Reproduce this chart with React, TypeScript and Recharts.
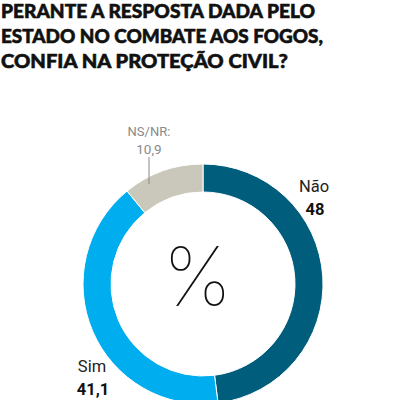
import React from "react";
import { PieChart, Pie, Cell } from "recharts";

const categories = ["Não", "Sim", "NS/NR"];
const values = [48, 41.1, 10.9];
const valueLabels = ["48", "41,1", "10,9"];
const colors = ["#005D7C", "#00AEEF", "#C9C8BA"];
const titleLines = [
  "PERANTE A RESPOSTA DADA PELO",
  "ESTADO NO COMBATE AOS FOGOS,",
  "CONFIA NA PROTEÇÃO CIVIL?",
];
const titleWidths = [314, 322, 287];

const data = categories.map((name, i) => ({ name, value: values[i], label: valueLabels[i] }));

const renderLabel = (props: any) => {
  const { cx, cy, index } = props;
  const d = data[index];
  if (index === 0) {
    return (
      <g>
        <text x={cx + 111} y={cy - 92} textAnchor="middle" fontFamily="Roboto, 'Liberation Sans', sans-serif" fontSize={16.5} fill="#222">{d.name}</text>
        <text x={cx + 112} y={cy - 69} textAnchor="middle" fontFamily="Roboto, 'Liberation Sans', sans-serif" fontWeight={700} fontSize={16.5} fill="#111">{d.label}</text>
      </g>
    );
  }
  if (index === 1) {
    return (
      <g>
        <text x={cx - 111} y={cy + 88} textAnchor="middle" fontFamily="Roboto, 'Liberation Sans', sans-serif" fontSize={16.5} fill="#222">{d.name}</text>
        <text x={cx - 110} y={cy + 111} textAnchor="middle" fontFamily="Roboto, 'Liberation Sans', sans-serif" fontWeight={700} fontSize={16.5} fill="#111">{d.label}</text>
      </g>
    );
  }
  return (
    <g>
      <text x={cx - 54} y={cy - 148} textAnchor="middle" fontFamily="Roboto, 'Liberation Sans', sans-serif" fontSize={13} fill="#8a8a8a">{d.name + ":"}</text>
      <text x={cx - 54} y={cy - 130} textAnchor="middle" fontFamily="Roboto, 'Liberation Sans', sans-serif" fontSize={13.5} fill="#8a8a8a">{d.label}</text>
      <line x1={cx - 54} y1={cy - 127} x2={cx - 54} y2={cy - 100} stroke="#888" strokeWidth={1} />
    </g>
  );
};

export default function App() {
  return (
    <div style={{ position: "absolute", left: 0, top: 0, width: 397, height: 400, background: "#fff", overflow: "hidden" }}>
      <div style={{ position: "absolute", left: 0, top: 0 }}>
        <PieChart width={397} height={400}>
          <Pie
            data={data}
            dataKey="value"
            nameKey="name"
            cx={198}
            cy={279}
            innerRadius={92}
            outerRadius={120}
            startAngle={90}
            endAngle={-270}
            stroke="#fff"
            strokeWidth={1}
            label={renderLabel}
            labelLine={false}
            isAnimationActive={false}
          >
            {data.map((d, i) => (
              <Cell key={d.name} fill={colors[i]} />
            ))}
          </Pie>
        </PieChart>
      </div>
      <svg width={397} height={400} style={{ position: "absolute", left: 0, top: 0, pointerEvents: "none" }}>
        {titleLines.map((t, i) => (
          <text
            key={i}
            x={1}
            y={18 + i * 25}
            fontFamily="Lato, 'DejaVu Sans', sans-serif"
            fontWeight={900}
            fontSize={19.5}
            fill="#111"
            stroke="#111"
            strokeWidth={0.6}
            textLength={titleWidths[i]}
            lengthAdjust="spacingAndGlyphs"
          >
            {t}
          </text>
        ))}
        <text
          x={163}
          y={306}
          fontFamily="Inter, Lato, sans-serif"
          fontWeight={100}
          fontSize={82}
          fill="#111"
          textLength={69}
          lengthAdjust="spacingAndGlyphs"
        >
          %
        </text>
      </svg>
    </div>
  );
}
